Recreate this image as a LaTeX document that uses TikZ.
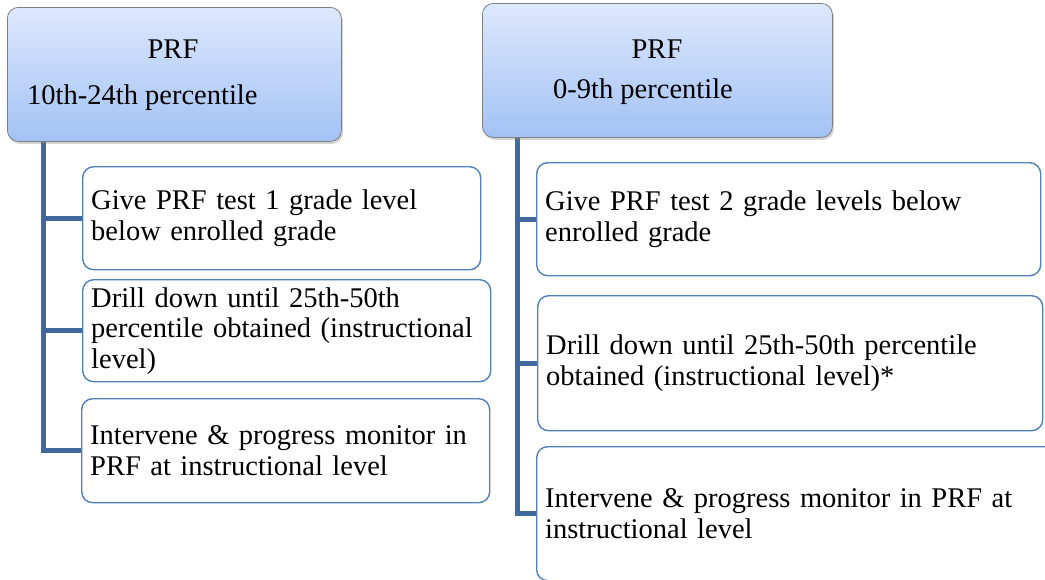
\documentclass[tikz,border=0pt]{standalone}
\usepackage{fontspec}
\setmainfont{Liberation Serif}
\usetikzlibrary{shadows,calc,backgrounds}

\definecolor{headtop}{HTML}{DDE8FC}
\definecolor{headbot}{HTML}{A3C2F5}
\definecolor{headline}{HTML}{808080}
\definecolor{boxline}{HTML}{4F81BD}
\definecolor{trunk}{HTML}{41699D}

\tikzset{
  headbox/.style={draw=headline, line width=0.8pt, rounded corners=11pt,
    top color=headtop, bottom color=headbot, anchor=north west,
    drop shadow={opacity=0.35, shadow xshift=1.5pt, shadow yshift=-2.5pt}},
  headtext/.style={inner sep=0pt, font=\fontsize{28.5}{32}\selectfont},
  itembox/.style={draw=boxline, line width=1.4pt, rounded corners=11pt, fill=white,
    anchor=north west, align=left, inner xsep=8.5pt, inner ysep=0pt,
    font=\fontsize{28.5}{30.5}\selectfont},
  conn/.style={draw=trunk, line width=5pt}
}

\begin{document}
\begin{tikzpicture}[x=1pt, y=-1pt]
  \clip (0,0) rectangle (1045,579);

  % left column
  \node[headbox, minimum width=334pt, minimum height=134pt] (h1) at (7,7) {};
  \node[headtext] (h1a) at (173,49) {PRF};
  \node[headtext, anchor=west] (h1b) at (27,98) {10th-24th percentile};

  \node[itembox, minimum height=103pt, text width=381pt] (l1) at (82,166)
    {Give PRF test 1 grade level\\below enrolled grade};
  \node[itembox, minimum height=102pt, text width=391pt] (l2) at (82,279)
    {Drill down until 25th-50th\\percentile obtained (instructional\\level)};
  \node[itembox, minimum height=104pt, text width=391pt] (l3) at (81,398)
    {Intervene \& progress monitor in\\PRF at instructional level};

  % right column
  \node[headbox, minimum width=350pt, minimum height=134pt] (h2) at (482,3) {};
  \node[headtext] (h2a) at (657,49) {PRF};
  \node[headtext, anchor=west] (h2b) at (553,92) {0-9th percentile};

  \node[itembox, minimum height=113pt, text width=487pt] (r1) at (536,162)
    {Give PRF test 2 grade levels below\\enrolled grade};
  \node[itembox, minimum height=135pt, text width=488pt] (r2) at (537,295)
    {Drill down until 25th-50th percentile\\obtained (instructional level)*};
  \node[itembox, minimum height=134pt, text width=543pt] (r3) at (536,446)
    {Intervene \& progress monitor in PRF at\\instructional level};

  % tree connectors, kept behind the boxes
  \begin{scope}[on background layer]
    \coordinate (t1) at ($(h1.south west)+(36,0)$);
    \draw[conn] (t1) |- (l3.west);
    \draw[conn] (t1) |- (l1.west);
    \draw[conn] (t1) |- (l2.west);

    \coordinate (t2) at ($(h2.south west)+(35,0)$);
    \draw[conn] (t2) |- (r3.west);
    \draw[conn] (t2) |- (r1.west);
    \draw[conn] (t2) |- (r2.west);
  \end{scope}
\end{tikzpicture}
\end{document}
